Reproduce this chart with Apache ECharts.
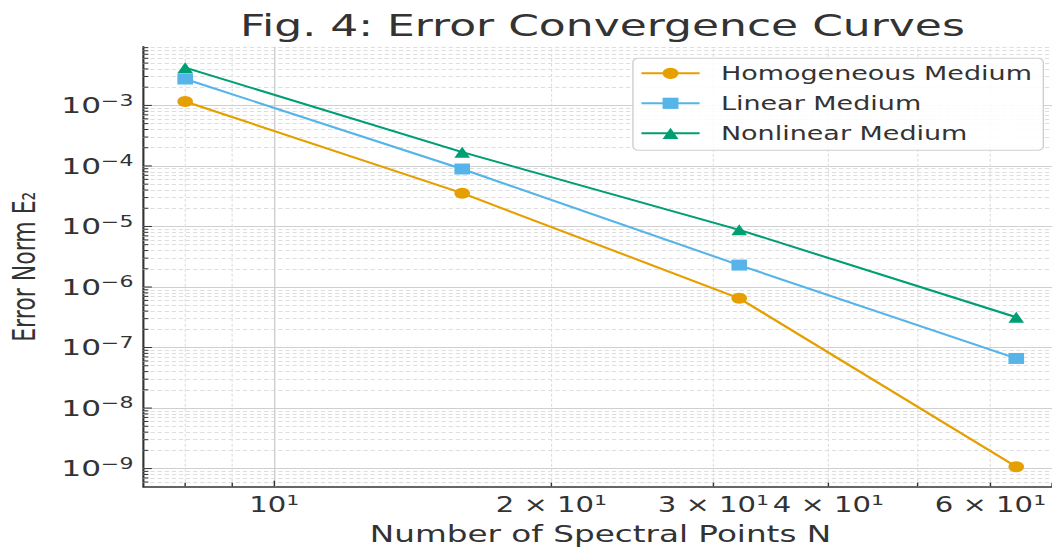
<!DOCTYPE html>
<html>
<head>
<meta charset="utf-8">
<script src="https://cdn.jsdelivr.net/npm/echarts@6/dist/echarts.min.js"></script>
<style>
html, body { margin: 0; padding: 0; background: #ffffff; overflow: hidden; width: 1052px; height: 555px; }
#chart { width: 741px; height: 555px; transform: scaleX(1.41970); transform-origin: 0 0; }
</style>
</head>
<body>
<div id="chart"></div>
<script>
// ---------------- data ----------------
const spectralPoints = [8, 16, 32, 64];
const homogeneousError = [1.16e-3, 3.55e-5, 6.5e-7, 1.07e-9];
const linearError = [2.73e-3, 8.9e-5, 2.3e-6, 6.6e-8];
const nonlinearError = [4.2e-3, 1.69e-4, 8.8e-6, 3.16e-7];
const seriesNames = ['Homogeneous Medium', 'Linear Medium', 'Nonlinear Medium'];

// ---------------- ticks ----------------
const xMajorTicks = [10];
const xMinorTicks = [8, 9, 20, 30, 40, 50, 60, 70];
const xTickLabelValues = [10, 20, 30, 40, 60];
const xTickLabelTexts = ['10', '2 × 10', '3 × 10', '4 × 10', '6 × 10'];
const xTickLabelExps = ['1', '1', '1', '1', '1'];
const yDecadeExponents = [-9, -8, -7, -6, -5, -4, -3];
const yMinorDecades = [-10, -9, -8, -7, -6, -5, -4, -3];
const yMinorMultipliers = [2, 3, 4, 5, 6, 7, 8, 9];
const xRange = [7.206, 70.99];
const yRange = [5.02e-10, 9.33e-3];

// ---------------- styles ----------------
const FONT = 'DejaVu Sans';
const TEXT = '#333333';
const colors = ['#E69F00', '#56B4E9', '#009E73'];
const symbols = ['circle', 'rect', 'triangle'];
const errors = [homogeneousError, linearError, nonlinearError];

const yMajorVals = yDecadeExponents.map(e => Math.pow(10, e));
const yMinorVals = [];
yMinorDecades.forEach(e => yMinorMultipliers.forEach(m => {
  const v = m * Math.pow(10, e);
  if (v > yRange[0] * 1.001 && v < yRange[1]) yMinorVals.push(v);
}));

const richY = {
  base: { fontSize: 22, fontFamily: FONT, color: TEXT, lineHeight: 27 },
  sup: { fontSize: 15.5, fontFamily: FONT, color: TEXT, lineHeight: 14, verticalAlign: 'top' }
};
const richX = {
  base: { fontSize: 20.5, fontFamily: FONT, color: TEXT, lineHeight: 26 },
  sup: { fontSize: 14.5, fontFamily: FONT, color: TEXT, lineHeight: 14, verticalAlign: 'top' }
};

const majorLine = { type: 'solid', color: '#d0d0d0', width: 1 };
const minorLine = { type: [3, 2], color: '#dedede', width: 0.8 };

const gridMarkData = [];
yMajorVals.forEach((v, i) => gridMarkData.push({
  yAxis: v, lineStyle: majorLine,
  label: { show: true, position: 'start', distance: 7, fontSize: 22, fontFamily: FONT, color: TEXT,
    formatter: '{base|10}{sup|−' + (-yDecadeExponents[i]) + '}', rich: richY }
}));
yMinorVals.forEach(v => gridMarkData.push({ yAxis: v, lineStyle: minorLine, label: { show: false } }));
xMajorTicks.concat(xMinorTicks).forEach(v => {
  const li = xTickLabelValues.indexOf(v);
  const item = { xAxis: v, lineStyle: xMajorTicks.indexOf(v) >= 0 ? majorLine : minorLine, label: { show: false } };
  if (li >= 0) {
    item.label = { show: true, position: 'start', distance: 5, fontSize: 20.5, fontFamily: FONT, color: TEXT,
      formatter: '{base|' + xTickLabelTexts[li] + '}{sup|' + xTickLabelExps[li] + '}', rich: richX };
  }
  gridMarkData.push(item);
});

const yTickData = yMajorVals.map(v => [xRange[0], v, 1]).concat(yMinorVals.map(v => [xRange[0], v, 0]));
const xTickData = xMajorTicks.map(v => [v, yRange[0], 1]).concat(xMinorTicks.map(v => [v, yRange[0], 0]));

const chart = echarts.init(document.getElementById('chart'), null, { renderer: 'svg' });

const dataSeries = seriesNames.map((name, k) => ({
  name: name,
  type: 'line',
  data: spectralPoints.map((x, i) => [x, errors[k][i]]),
  symbol: symbols[k],
  symbolSize: 11,
  showSymbol: true,
  lineStyle: { width: 2, color: colors[k] },
  itemStyle: { color: colors[k] },
  z: 10,
  animation: false
}));

chart.setOption({
  backgroundColor: '#ffffff',
  animation: false,
  title: {
    text: 'Fig. 4: Error Convergence Curves',
    left: 164, top: 5,
    textStyle: { fontSize: 31, fontWeight: 'normal', color: TEXT, fontFamily: FONT }
  },
  legend: {
    data: seriesNames,
    orient: 'vertical',
    left: 445.8, top: 58.3,
    padding: [5, 8, 7, 5],
    itemWidth: 41, itemHeight: 14, itemGap: 10,
    backgroundColor: 'rgba(255,255,255,0.88)',
    borderColor: '#cfcfcf', borderWidth: 1, borderRadius: 4,
    textStyle: { fontSize: 19, color: TEXT, fontFamily: FONT, padding: [0, 0, 0, 10], lineHeight: 20 },
    z: 20
  },
  grid: { left: 101, right: -4, top: 46.7, bottom: 68.3, outerBoundsMode: 'none', containLabel: false },
  xAxis: {
    type: 'log', logBase: 10, min: xRange[0], max: xRange[1],
    name: 'Number of Spectral Points N', nameLocation: 'middle', nameGap: 36,
    nameTextStyle: { fontSize: 23, color: TEXT, fontFamily: FONT },
    axisLine: { show: true, lineStyle: { color: '#333', width: 1.5 } },
    axisTick: { show: false }, axisLabel: { show: false },
    splitLine: { show: false }, minorSplitLine: { show: false }
  },
  yAxis: {
    type: 'log', logBase: 10, min: yRange[0], max: yRange[1],
    name: 'Error Norm E₂', nameLocation: 'middle', nameGap: 73,
    nameTextStyle: { fontSize: 22, color: TEXT, fontFamily: FONT },
    axisLine: { show: true, lineStyle: { color: '#333', width: 1.5 } },
    axisTick: { show: false }, axisLabel: { show: false },
    splitLine: { show: false }, minorSplitLine: { show: false }
  },
  series: [
    {
      name: 'gridlines', type: 'line', data: [], silent: true, z: 1,
      markLine: { silent: true, precision: 20, symbol: ['none', 'none'], animation: false, data: gridMarkData }
    },
    {
      name: 'yticks', type: 'custom', silent: true, z: 11, data: yTickData,
      renderItem: function (params, api) {
        const p = api.coord([api.value(0), api.value(1)]);
        const len = api.value(2) ? 6 : 3.5;
        return { type: 'line', shape: { x1: p[0], y1: p[1], x2: p[0] + len, y2: p[1] }, style: { stroke: '#333', lineWidth: 1 } };
      }
    },
    {
      name: 'xticks', type: 'custom', silent: true, z: 11, data: xTickData,
      renderItem: function (params, api) {
        const p = api.coord([api.value(0), api.value(1)]);
        const len = api.value(2) ? 6 : 4;
        return { type: 'line', shape: { x1: p[0], y1: p[1], x2: p[0], y2: p[1] - len }, style: { stroke: '#333', lineWidth: 1 } };
      }
    }
  ].concat(dataSeries)
});
</script>
</body>
</html>
